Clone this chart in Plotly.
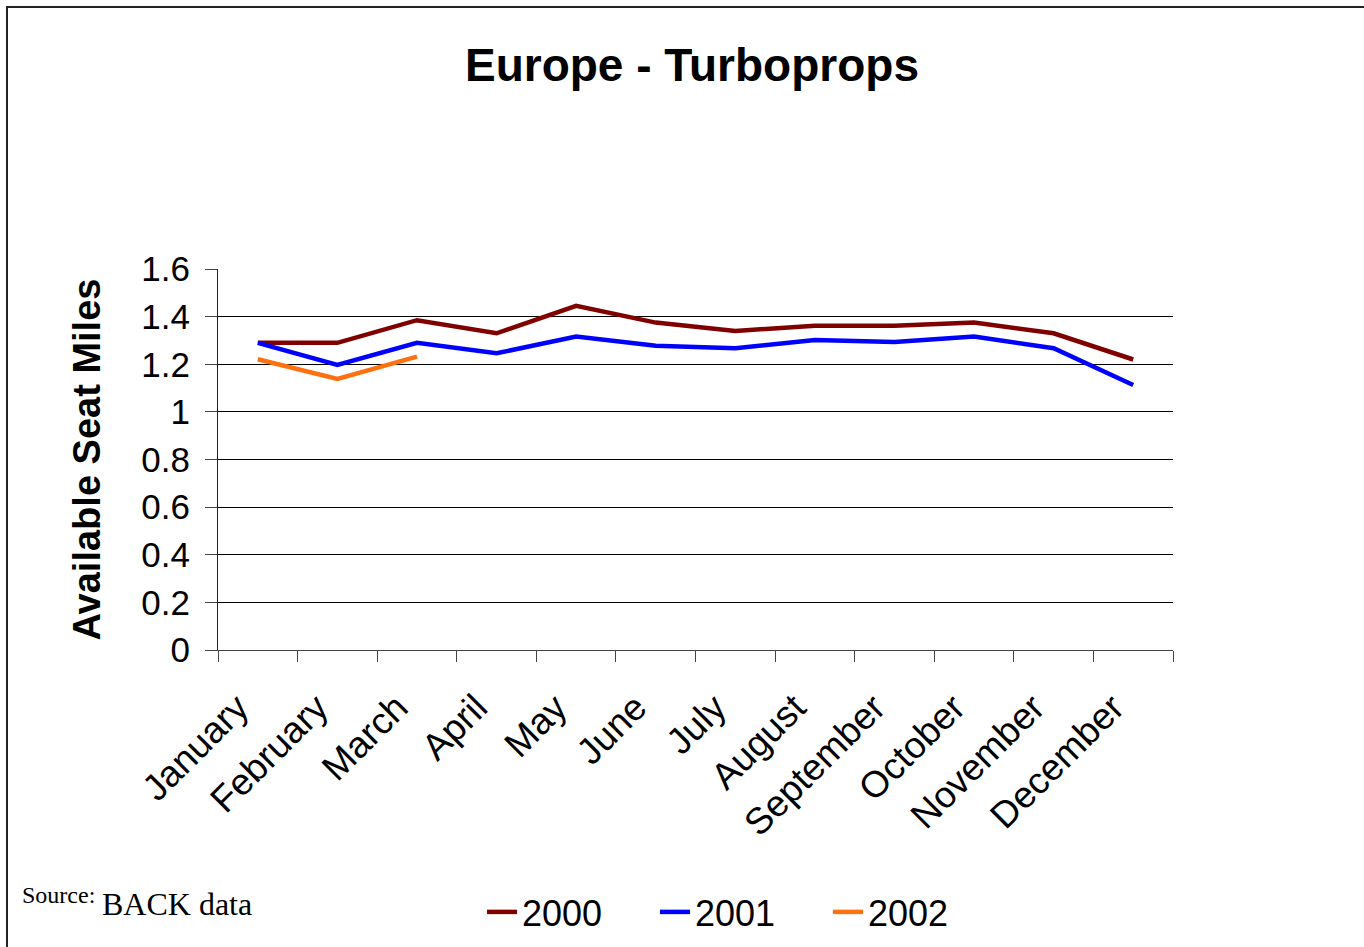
import plotly.graph_objects as go

months = ["January", "February", "March", "April", "May", "June", "July",
          "August", "September", "October", "November", "December"]
y2000 = [1.29, 1.29, 1.385, 1.33, 1.445, 1.375, 1.34, 1.362, 1.362, 1.375, 1.33, 1.22]
y2001 = [1.29, 1.197, 1.29, 1.246, 1.316, 1.278, 1.267, 1.302, 1.293, 1.316, 1.267, 1.113]
y2002 = [1.221, 1.138, 1.232]
y_ticks = [0, 0.2, 0.4, 0.6, 0.8, 1, 1.2, 1.4, 1.6]
y_ticktext = ["0", "0.2", "0.4", "0.6", "0.8", "1", "1.2", "1.4", "1.6"]

W, H = 1364, 947
L, R, T, B = 218, 1173, 269, 650
FONT = "Liberation Sans, Arial, sans-serif"
SERIF = "Liberation Serif, Times New Roman, serif"

fig = go.Figure()
fig.add_trace(go.Scatter(x=months, y=y2000, name="2000", mode="lines",
                         line=dict(color="#800000", width=4.5)))
fig.add_trace(go.Scatter(x=months, y=y2001, name="2001", mode="lines",
                         line=dict(color="#0000FF", width=4.5)))
fig.add_trace(go.Scatter(x=months[:len(y2002)], y=y2002, name="2002", mode="lines",
                         line=dict(color="#FF7010", width=4.5)))

def px2x(px):
    return (px - L) / (R - L)

def py2y(py):
    return (B - py) / (B - T)

fig.update_layout(
    width=W, height=H,
    margin=dict(l=L, r=W - R, t=T, b=H - B, pad=0),
    paper_bgcolor="white", plot_bgcolor="white",
    font=dict(family=FONT, color="black", size=34),
    title=dict(text="<b>Europe - Turboprops</b>", font=dict(family=FONT, size=46, color="black"),
               xref="container", x=692 / W, xanchor="center",
               yref="container", y=1 - 65 / H, yanchor="middle"),
    xaxis=dict(type="category", categoryorder="array", categoryarray=months,
               range=[-0.5, 11.5], tickson="boundaries", ticks="outside", ticklen=11,
               tickcolor="#444", tickwidth=1, showline=True, linecolor="#444", linewidth=1,
               showgrid=False, tickangle=-45, tickfont=dict(family=FONT, size=37),
               ticklabelstandoff=20, ticklabelshift=-20, zeroline=False),
    yaxis=dict(range=[0, 1.6], tickvals=y_ticks, ticktext=y_ticktext, ticks="outside",
               ticklen=12, tickcolor="#444", tickwidth=1, showline=True, linecolor="#222",
               linewidth=1, showgrid=True, gridcolor="black", gridwidth=1, zeroline=False,
               tickfont=dict(family=FONT, size=35), ticklabelstandoff=8,
               title=dict(text="<b>Available Seat Miles</b>", font=dict(family=FONT, size=38),
                          standoff=29)),
    showlegend=True,
    legend=dict(orientation="h", xref="container", yref="container",
                x=482 / W, xanchor="left", y=1 - 912 / H, yanchor="middle",
                font=dict(family=FONT, size=36), entrywidth=128, entrywidthmode="pixels",
                itemwidth=30, bgcolor="rgba(0,0,0,0)", traceorder="normal"),
)

fig.add_annotation(text="Source:", xref="paper", yref="paper", x=px2x(20), y=py2y(895),
                   xanchor="left", yanchor="middle", showarrow=False,
                   font=dict(family=SERIF, size=24, color="black"))
fig.add_annotation(text="BACK data", xref="paper", yref="paper", x=px2x(100), y=py2y(904),
                   xanchor="left", yanchor="middle", showarrow=False,
                   font=dict(family=SERIF, size=32, color="black"))

fig.add_shape(type="rect", xref="paper", yref="paper",
              x0=px2x(7), y0=py2y(7), x1=px2x(1400), y1=py2y(1000),
              line=dict(color="#222", width=2), fillcolor="rgba(0,0,0,0)", layer="below")

fig.write_html("out.html")
